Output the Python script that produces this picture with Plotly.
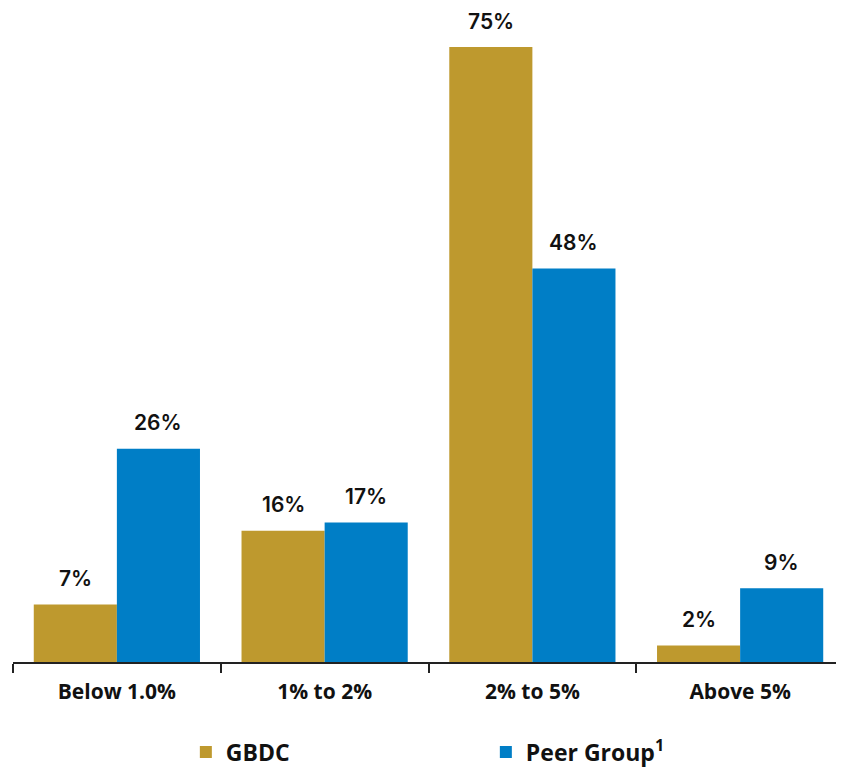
import plotly.graph_objects as go

categories = ['Below 1.0%', '1% to 2%', '2% to 5%', 'Above 5%']
gbdc = [7, 16, 75, 2]
peer = [26, 17, 48, 9]
gbdc_labels = ['7%', '16%', '75%', '2%']
peer_labels = ['26%', '17%', '48%', '9%']

colors = ['#BE992E', '#007EC6']

fig = go.Figure()
fig.add_trace(go.Bar(x=categories, y=gbdc, name='GBDC', marker=dict(color=colors[0], line=dict(width=0)),
                     hoverinfo='none'))
fig.add_trace(go.Bar(x=categories, y=peer, name='Peer Group<sup>1</sup>',
                     marker=dict(color=colors[1], line=dict(width=0)), hoverinfo='none'))

# etiquettes au-dessus des barres
for i, cat in enumerate(categories):
    fig.add_annotation(x=cat, y=gbdc[i], text=gbdc_labels[i], xshift=-41.5, yshift=26,
                       showarrow=False, font=dict(size=21, color='#111111', family='Inter', weight=600))
    fig.add_annotation(x=cat, y=peer[i], text=peer_labels[i], xshift=41.5, yshift=26,
                       showarrow=False, font=dict(size=21, color='#111111', family='Inter', weight=600))

# la page ajoute 8px de marge autour du graphique
fig.update_layout(
    width=836,
    height=762,
    barmode='group',
    bargap=0.2,
    bargroupgap=0,
    plot_bgcolor='white',
    paper_bgcolor='white',
    margin=dict(l=5, r=0, t=0, b=108, autoexpand=False),
    font=dict(family='Open Sans', color='#111111'),
    legend=dict(orientation='h', x=0.208, xanchor='left', y=-0.1376, yanchor='middle',
                entrywidth=255, entrywidthmode='pixels', itemwidth=30,
                font=dict(size=23, family='Open Sans', weight='bold'), itemclick=False),
)
fig.update_xaxes(showline=True, linecolor='#222222', linewidth=1.5, ticks='outside',
                 tickson='boundaries', ticklen=9, tickcolor='#222222', tickwidth=1.5,
                 ticklabelstandoff=10,
                 tickfont=dict(size=21, family='Open Sans', weight='bold', color='#111111'))
fig.update_yaxes(range=[0, 654 / 8.2], visible=False)

fig.write_html('out.html', config={'displayModeBar': False})
